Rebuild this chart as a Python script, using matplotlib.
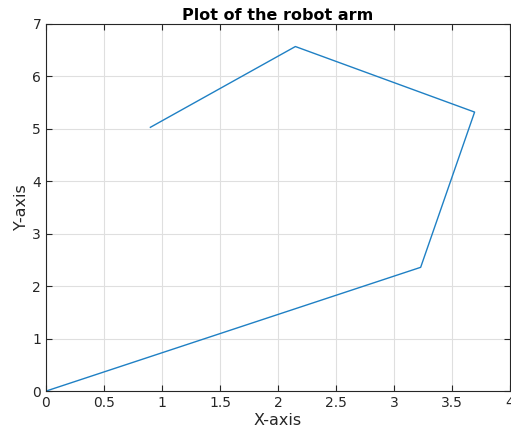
import numpy as np
import matplotlib
matplotlib.use('Agg')
import matplotlib.pyplot as plt

# joint positions of the arm, base to tip
joint_x = [0.0, 3.23, 3.695, 2.15, 0.90]
joint_y = [0.0, 2.36, 5.32, 6.57, 5.03]

x_ticks = [0, 0.5, 1, 1.5, 2, 2.5, 3, 3.5, 4]
x_tick_labels = ['0', '0.5', '1', '1.5', '2', '2.5', '3', '3.5', '4']
y_ticks = [0, 1, 2, 3, 4, 5, 6, 7]

fig = plt.figure(figsize=(5.11, 4.36), dpi=100)
ax = fig.add_axes([0.090, 0.103, 0.908, 0.842])

ax.plot(joint_x, joint_y, color='#1f80c4', linewidth=1.0)

ax.set_xlim(0, 4)
ax.set_ylim(0, 7)
ax.set_xticks(x_ticks)
ax.set_xticklabels(x_tick_labels)
ax.set_yticks(y_ticks)
ax.grid(True, color='#dfdfdf', linewidth=0.8)
ax.set_axisbelow(True)
ax.tick_params(direction='in', length=4, labelsize=10, colors='#262626',
               top=True, right=True, labeltop=False, labelright=False)
for spine in ax.spines.values():
    spine.set_color('#262626')
    spine.set_linewidth(0.8)

ax.set_xlabel('X-axis', fontsize=11.5, color='#262626', labelpad=2)
ax.set_ylabel('Y-axis', fontsize=11.5, color='#262626', labelpad=2)
ax.set_title('Plot of the robot arm', fontsize=11.5, fontweight='bold', pad=3)

plt.savefig('out.png', dpi=100)
plt.close()
